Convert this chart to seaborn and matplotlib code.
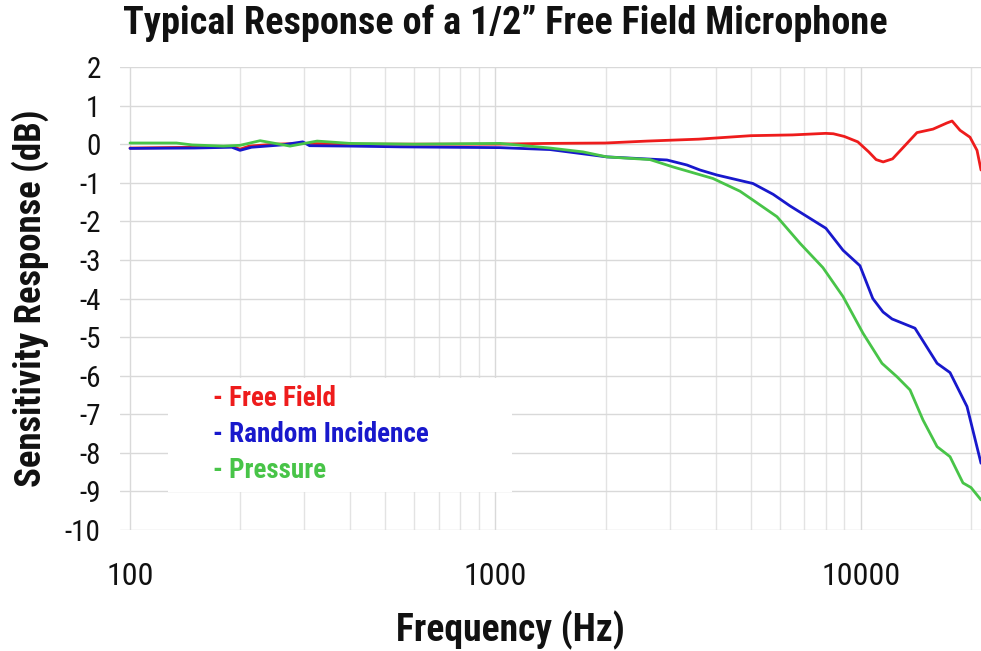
import numpy as np
import pandas as pd
import matplotlib
matplotlib.use("Agg")
import matplotlib.pyplot as plt
from matplotlib.patches import Rectangle
from matplotlib.ticker import LogLocator, FixedLocator, NullFormatter
import seaborn as sns

# ---------------- data ----------------
free_field_freq = [100, 150, 190, 200, 212, 250, 300, 400, 600, 1000, 1400, 2000,
                   2600, 3600, 5000, 6500, 8000, 8400, 9000, 9800, 10500, 11000,
                   11500, 12200, 13000, 14230, 15740, 17190, 17750, 18660, 19870,
                   20770, 21300]
free_field_db = [-0.10, -0.08, -0.06, -0.13, -0.05, 0.00, 0.02, 0.00, 0.00, 0.00,
                 0.02, 0.03, 0.08, 0.13, 0.22, 0.24, 0.28, 0.27, 0.20, 0.06, -0.20,
                 -0.40, -0.46, -0.38, -0.10, 0.30, 0.39, 0.55, 0.60, 0.36, 0.18,
                 -0.16, -0.67]

random_freq = [100, 150, 190, 200, 215, 260, 297, 310, 400, 550, 750, 1029, 1410,
               2018, 2945, 3340, 3627, 4036, 5064, 5750, 6393, 8016, 8930, 9933,
               10770, 11490, 12160, 14050, 16150, 17520, 19500, 21300]
random_db = [-0.11, -0.10, -0.08, -0.16, -0.08, -0.02, 0.06, -0.04, -0.05, -0.07,
             -0.08, -0.09, -0.14, -0.33, -0.41, -0.54, -0.67, -0.80, -1.02, -1.30,
             -1.60, -2.18, -2.75, -3.15, -4.00, -4.35, -4.53, -4.77, -5.68, -5.92,
             -6.80, -8.27]

pressure_freq = [100, 134, 148, 180, 200, 227, 274, 325, 400, 600, 1029, 1410, 1735,
                 2018, 2647, 3059, 3936, 4667, 5064, 5890, 6810, 7867, 8930, 10127,
                 11413, 12550, 13620, 14780, 16150, 17520, 19010, 20000, 21300]
pressure_db = [0.03, 0.03, -0.02, -0.05, -0.03, 0.09, -0.05, 0.08, 0.02, 0.00, 0.02,
               -0.10, -0.20, -0.33, -0.40, -0.59, -0.89, -1.22, -1.45, -1.88, -2.57,
               -3.20, -3.95, -4.90, -5.68, -6.03, -6.37, -7.15, -7.84, -8.10, -8.78,
               -8.90, -9.22]

series_names = ["Free Field", "Random Incidence", "Pressure"]
series_colors = ["#ee1c1c", "#1818cc", "#48c448"]

y_ticks = list(range(-10, 3))
x_ticks = [100, 1000, 10000]
x_tick_labels = ["100", "1000", "10000"]

# ---------------- build table ----------------
frames = []
for name, f, d in zip(series_names,
                      [free_field_freq, random_freq, pressure_freq],
                      [free_field_db, random_db, pressure_db]):
    frames.append(pd.DataFrame({"freq": f, "db": d, "series": name}))
df = pd.concat(frames, ignore_index=True)

# ---------------- style ----------------
sns.set_style("white")
FONT = ["Roboto Condensed", "DejaVu Sans"]
plt.rcParams["font.family"] = FONT
for k in ("text.color", "axes.labelcolor", "xtick.color", "ytick.color"):
    plt.rcParams[k] = "#111111"

W, H = 981, 651
fig = plt.figure(figsize=(W / 100, H / 100), dpi=100)
ax = fig.add_axes([120 / W, (H - 530) / H, 1 - 120 / W, (530 - 67) / H])

palette = dict(zip(series_names, series_colors))
sns.lineplot(data=df, x="freq", y="db", hue="series", hue_order=series_names,
             palette=palette, lw=2.0, ax=ax, legend=False, sort=True,
             estimator=None, zorder=3)

ax.set_xscale("log")
ax.set_xlim(10 ** (2 - 10 / 365.5), 10 ** (2 + 851 / 365.5))
ax.set_ylim(-10, 2)

ax.xaxis.set_major_locator(FixedLocator(x_ticks))
ax.set_xticklabels(x_tick_labels)
ax.xaxis.set_minor_locator(LogLocator(base=10, subs=np.arange(2, 10)))
ax.xaxis.set_minor_formatter(NullFormatter())
ax.set_yticks(y_ticks)
ax.set_yticklabels([str(v) for v in y_ticks])

ax.grid(True, which="major", axis="both", color="#d9d9d9", lw=1.0)
ax.grid(True, which="minor", axis="x", color="#e3e3e3", lw=1.0)
ax.set_axisbelow(True)
for s in ax.spines.values():
    s.set_visible(False)
ax.tick_params(axis="both", which="both", length=0)
ax.tick_params(axis="x", labelsize=23, pad=23)
ax.tick_params(axis="y", labelsize=21, pad=14)

ax.set_xlabel("Frequency (Hz)", fontsize=27, fontweight="bold")
ax.xaxis.set_label_coords((510 - 120) / 861, (H - 630 - 121) / 463)
ax.xaxis.label.set_va("center")
ax.set_ylabel("Sensitivity Response (dB)", fontsize=26.5, fontweight="bold")
ax.yaxis.set_label_coords((30 - 120) / 861, (H - 298 - 121) / 463)
ax.yaxis.label.set_va("center")

fig.text(505 / W, 1 - 23 / H, "Typical Response of a 1/2\u201d Free Field Microphone",
         ha="center", va="center", fontsize=27.5, fontweight="bold")

# legend: white box with coloured text entries
ax.add_patch(Rectangle((168 / W, 1 - 492 / H), (512 - 168) / W, (492 - 378) / H,
                       transform=fig.transFigure, facecolor="white",
                       edgecolor="none", zorder=2))
for i, (name, col) in enumerate(zip(series_names, series_colors)):
    ax.text(213 / W, 1 - (398 + 36.5 * i) / H, "- " + name, transform=fig.transFigure,
            color=col, fontsize=19.5, fontweight="bold", ha="left", va="center",
            zorder=4)

fig.savefig("out.png", dpi=100)
